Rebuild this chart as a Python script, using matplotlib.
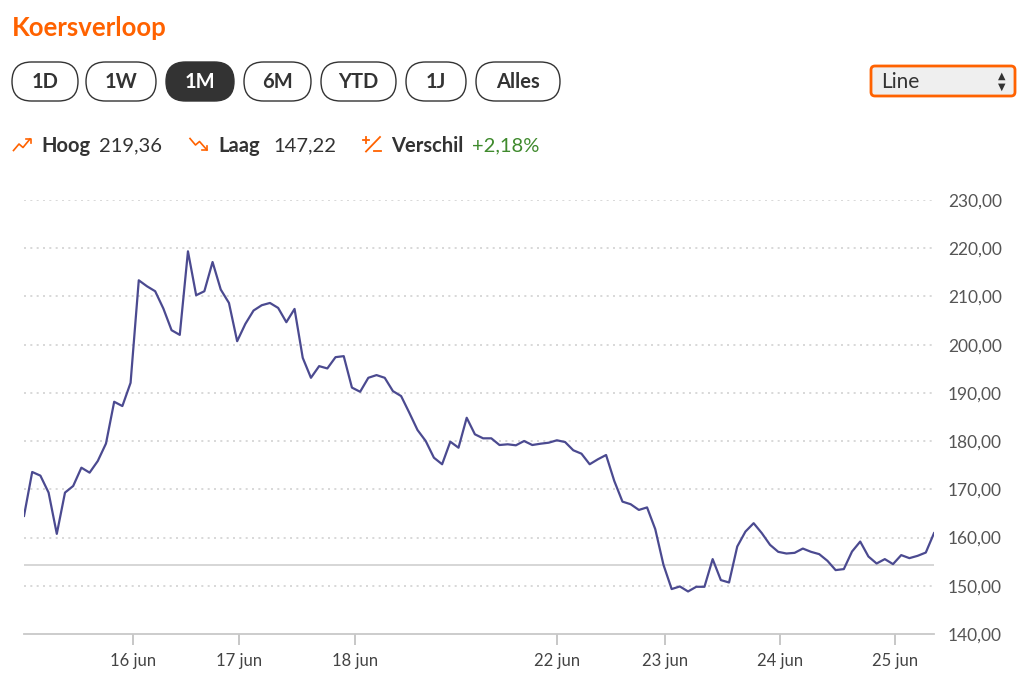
import matplotlib
matplotlib.use("Agg")
import matplotlib.pyplot as plt
from matplotlib.patches import FancyBboxPatch

plt.rcParams['font.family'] = ['Lato', 'DejaVu Sans']

# koers per punt (1M)
prices = [164.49, 173.60, 172.84, 169.32, 160.77, 169.32, 170.70, 174.49, 173.46, 175.88,
          179.50, 188.16, 187.27, 192.09, 213.35, 212.11, 211.08, 207.49, 203.00, 202.03,
          219.36, 210.25, 211.08, 217.14, 211.43, 208.65, 200.72, 204.31, 207.08, 208.18,
          208.65, 207.62, 204.66, 207.41, 197.27, 193.13, 195.55, 195.07, 197.41, 197.62,
          191.10, 190.23, 193.13, 193.69, 193.13, 190.37, 189.34, 185.88, 182.30, 180.02,
          176.56, 175.20, 179.88, 178.63, 184.84, 181.41, 180.58, 180.58, 179.19, 179.34,
          179.13, 180.02, 179.19, 179.46, 179.67, 180.17, 179.81, 178.10, 177.39, 175.20,
          176.23, 177.12, 171.74, 167.45, 166.91, 165.73, 166.25, 161.74, 154.35, 149.32,
          149.86, 148.82, 149.79, 149.79, 155.53, 151.18, 150.68, 158.14, 161.24, 162.98,
          160.91, 158.49, 157.04, 156.69, 156.83, 157.72, 157.04, 156.56, 155.18, 153.25,
          153.46, 157.10, 159.17, 156.07, 154.62, 155.53, 154.49, 156.36, 155.73, 156.21,
          156.89, 160.91]
ref_price = 154.29

date_pos = [13.3, 26.2, 40.4, 65.0, 78.2, 92.2, 106.2]
date_labels = ['16 jun', '17 jun', '18 jun', '22 jun', '23 jun', '24 jun', '25 jun']
y_ticks = [140, 150, 160, 170, 180, 190, 200, 210, 220, 230]

periods = ['1D', '1W', '1M', '6M', 'YTD', '1J', 'Alles']
period_x = [(12, 78), (86, 156), (166, 234), (244, 311), (321, 396), (406, 466), (476, 560)]
active = '1M'

hoog = '219,36'
laag = '147,22'
verschil = '+2,18%'

ORANGE = '#ff6200'
DARK = '#333333'

W, H = 1024, 689
fig = plt.figure(figsize=(W / 100, H / 100), dpi=100)

# overlay in pixel coordinates for the header widgets
ov = fig.add_axes([0, 0, 1, 1])
ov.set_xlim(0, W)
ov.set_ylim(H, 0)
ov.axis('off')

ov.text(12, 28, 'Koersverloop', color=ORANGE, fontsize=18.5, fontweight='bold',
        ha='left', va='center')

for lab, (x0, x1) in zip(periods, period_x):
    on = lab == active
    box = FancyBboxPatch((x0, 62), x1 - x0, 39,
                         boxstyle='round,pad=0,rounding_size=19.5',
                         facecolor=DARK if on else 'white', edgecolor=DARK, lw=1.0)
    ov.add_patch(box)
    ov.text((x0 + x1) / 2, 82.5, lab, color='white' if on else DARK, fontsize=14.5,
            fontweight='bold', ha='center', va='center')

# dropdown
dd = FancyBboxPatch((871, 66), 144, 30, boxstyle='round,pad=0,rounding_size=4',
                    facecolor='#efefef', edgecolor=ORANGE, lw=2)
ov.add_patch(dd)
ov.text(881, 82, 'Line', color=DARK, fontsize=15, ha='left', va='center')
ov.text(1002, 75.5, '▲', color=DARK, fontsize=7, ha='center', va='center', family='DejaVu Sans')
ov.text(1002, 87, '▼', color=DARK, fontsize=7, ha='center', va='center', family='DejaVu Sans')

# stats row: icons
ov.plot([13.5, 19, 23, 30], [150.5, 144, 147.5, 139], color=ORANGE, lw=1.2)
ov.plot([25.5, 30.5, 30.5], [138.5, 138.5, 143], color=ORANGE, lw=1.2)
ov.plot([190, 195.5, 199.5, 207], [138.5, 145, 141.5, 150], color=ORANGE, lw=1.2)
ov.plot([207, 207, 202], [145.5, 150.3, 150.3], color=ORANGE, lw=1.2)
ov.plot([363, 369], [139.5, 139.5], color=ORANGE, lw=1.3)
ov.plot([366, 366], [136.5, 142.5], color=ORANGE, lw=1.3)
ov.plot([366, 380], [151.5, 137], color=ORANGE, lw=1.3)
ov.plot([374, 381], [150.5, 150.5], color=ORANGE, lw=1.3)

ov.text(41, 146, 'Hoog', color=DARK, fontsize=14.5, fontweight='bold', ha='left', va='center')
ov.text(99, 146, hoog, color=DARK, fontsize=14.5, ha='left', va='center')
ov.text(218, 146, 'Laag', color=DARK, fontsize=14.5, fontweight='bold', ha='left', va='center')
ov.text(273, 146, laag, color=DARK, fontsize=14.5, ha='left', va='center')
ov.text(391, 146, 'Verschil', color=DARK, fontsize=14.5, fontweight='bold', ha='left', va='center')
ov.text(472, 146, verschil, color='#3f8a2d', fontsize=14.5, ha='left', va='center')

# price chart
ax = fig.add_axes([24 / W, 1 - 634 / H, (934 - 24) / W, (634 - 200) / H])
ax.plot(range(len(prices)), prices, color='#4b4a90', lw=1.6, zorder=3)
ax.axhline(ref_price, color='#cfcfcf', lw=1.2, zorder=2)
ax.set_xlim(0, len(prices) - 1)
ax.set_ylim(140, 230)

for v in y_ticks[1:]:
    ax.axhline(v, color='#d2d2d2', lw=1.2, ls=(0, (1.2, 2.6)), zorder=1)

ax.yaxis.tick_right()
ax.set_yticks(y_ticks)
ax.set_yticklabels(['%d,00' % v for v in y_ticks])
ax.tick_params(axis='y', length=0, pad=10, labelsize=12.5, labelcolor='#555555')

ax.set_xticks(date_pos)
ax.set_xticklabels(date_labels)
ax.tick_params(axis='x', length=8, width=1.2, color='#bdbdbd', pad=6,
               labelsize=12, labelcolor='#444444')

for s in ['left', 'right', 'top']:
    ax.spines[s].set_visible(False)
ax.spines['bottom'].set_color('#c8c8c8')
ax.spines['bottom'].set_linewidth(1.3)
ax.set_facecolor('none')

fig.savefig('out.png', dpi=100)
